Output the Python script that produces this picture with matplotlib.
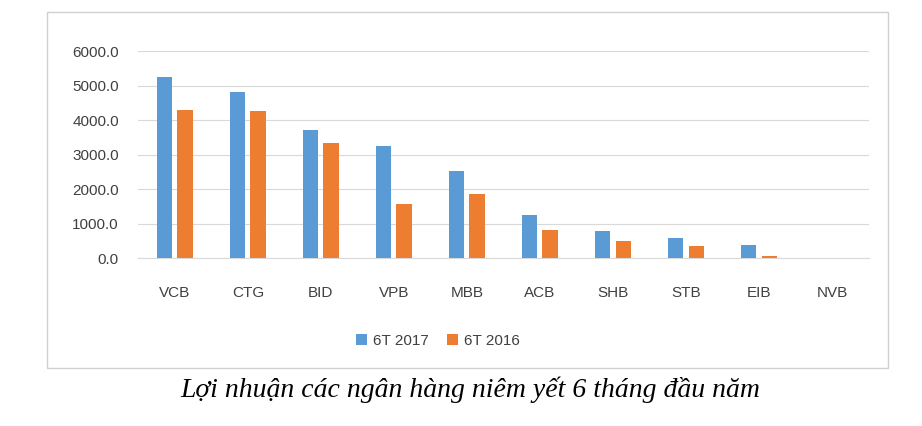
import matplotlib.pyplot as plt
import numpy as np
from matplotlib.patches import Rectangle

banks = ['VCB', 'CTG', 'BID', 'VPB', 'MBB', 'ACB', 'SHB', 'STB', 'EIB', 'NVB']
ln_2017 = [5240, 4810, 3710, 3245, 2520, 1245, 785, 580, 380, 0]
ln_2016 = [4290, 4260, 3335, 1565, 1855, 812, 495, 350, 60, 0]

fig = plt.figure(figsize=(9.22, 4.26), dpi=100)
fig.patches.append(Rectangle((0.051, 0.136), 0.912, 0.836, transform=fig.transFigure,
                             fill=False, edgecolor='#d0d0d0', linewidth=1))

ax = fig.add_axes([0.150, 0.394, 0.792, 0.486])
x = np.arange(len(banks))
w = 0.21
ax.bar(x - 0.14, ln_2017, w, color='#5B9BD5', label='6T 2017', zorder=3)
ax.bar(x + 0.14, ln_2016, w, color='#ED7D31', label='6T 2016', zorder=3)

ax.set_xlim(-0.5, len(banks) - 0.5)
ax.set_ylim(0, 6000)
ax.set_yticks(np.arange(0, 6001, 1000))
ax.set_yticklabels(['%.1f' % v for v in np.arange(0, 6001, 1000)])
ax.set_xticks(x)
ax.set_xticklabels(banks)
ax.grid(axis='y', color='#d9d9d9', linewidth=0.8, zorder=0)
for s in ['top', 'right', 'left']:
    ax.spines[s].set_visible(False)
ax.spines['bottom'].set_color('#d9d9d9')
ax.tick_params(axis='both', length=0, labelsize=11, colors='#404040')
ax.tick_params(axis='x', pad=20)
ax.tick_params(axis='y', pad=14)
for t in ax.get_xticklabels() + ax.get_yticklabels():
    t.set_fontfamily('Liberation Sans')

leg = fig.legend(loc='center', bbox_to_anchor=(0.475, 0.2), ncol=2, frameon=False,
                 prop={'family': 'Liberation Sans', 'size': 11},
                 handlelength=0.7, handleheight=0.7, columnspacing=1.2, handletextpad=0.4)
for t in leg.get_texts():
    t.set_color('#404040')

fig.text(0.51, 0.085, 'Lợi nhuận các ngân hàng niêm yết 6 tháng đầu năm', ha='center', va='center',
         fontfamily='Liberation Serif', fontstyle='italic', fontsize=20)

fig.savefig('out.png', dpi=100)
